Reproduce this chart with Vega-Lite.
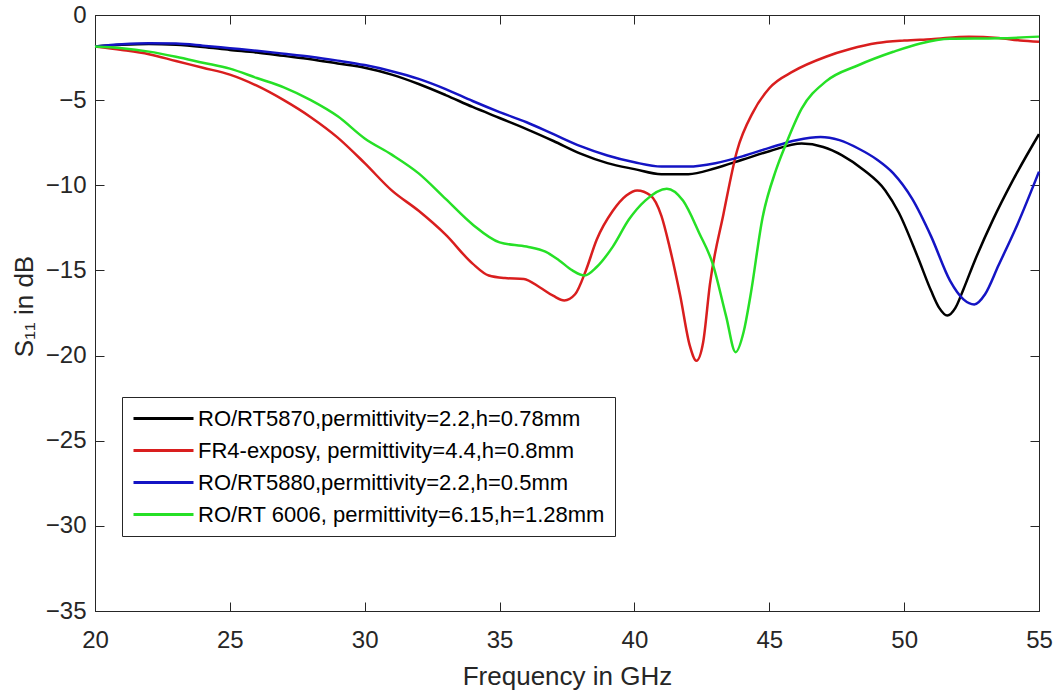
{
  "$schema": "https://vega.github.io/schema/vega-lite/v6.json",
  "autosize": {"type": "none"},
  "padding": {"left": 95, "top": 15, "right": 18, "bottom": 80},
  "width": 944,
  "height": 596,
  "background": "white",
  "config": {
    "view": {"stroke": "#262626", "strokeWidth": 1},
    "font": "Liberation Sans",
    "axis": {
      "grid": false,
      "domainColor": "#262626",
      "tickColor": "#262626",
      "labelColor": "#262626",
      "titleColor": "#262626",
      "labelFont": "Liberation Sans",
      "titleFont": "Liberation Sans",
      "labelFontSize": 24,
      "titleFontSize": 26,
      "titleFontWeight": "normal",
      "tickSize": -9,
      "labelFlush": false,
      "labelOverlap": false
    }
  },
  "data": {
    "values": [
      {"f":20,"s":-1.85,"m":"RO/RT5870,permittivity=2.2,h=0.78mm"},
      {"f":21,"s":-1.75,"m":"RO/RT5870,permittivity=2.2,h=0.78mm"},
      {"f":22,"s":-1.7,"m":"RO/RT5870,permittivity=2.2,h=0.78mm"},
      {"f":23,"s":-1.75,"m":"RO/RT5870,permittivity=2.2,h=0.78mm"},
      {"f":24,"s":-1.88,"m":"RO/RT5870,permittivity=2.2,h=0.78mm"},
      {"f":25,"s":-2.05,"m":"RO/RT5870,permittivity=2.2,h=0.78mm"},
      {"f":26,"s":-2.2,"m":"RO/RT5870,permittivity=2.2,h=0.78mm"},
      {"f":27,"s":-2.4,"m":"RO/RT5870,permittivity=2.2,h=0.78mm"},
      {"f":28,"s":-2.6,"m":"RO/RT5870,permittivity=2.2,h=0.78mm"},
      {"f":29,"s":-2.85,"m":"RO/RT5870,permittivity=2.2,h=0.78mm"},
      {"f":30,"s":-3.1,"m":"RO/RT5870,permittivity=2.2,h=0.78mm"},
      {"f":31,"s":-3.5,"m":"RO/RT5870,permittivity=2.2,h=0.78mm"},
      {"f":32,"s":-4.05,"m":"RO/RT5870,permittivity=2.2,h=0.78mm"},
      {"f":33,"s":-4.7,"m":"RO/RT5870,permittivity=2.2,h=0.78mm"},
      {"f":34,"s":-5.4,"m":"RO/RT5870,permittivity=2.2,h=0.78mm"},
      {"f":35,"s":-6.05,"m":"RO/RT5870,permittivity=2.2,h=0.78mm"},
      {"f":36,"s":-6.7,"m":"RO/RT5870,permittivity=2.2,h=0.78mm"},
      {"f":37,"s":-7.4,"m":"RO/RT5870,permittivity=2.2,h=0.78mm"},
      {"f":38,"s":-8.14,"m":"RO/RT5870,permittivity=2.2,h=0.78mm"},
      {"f":39,"s":-8.7,"m":"RO/RT5870,permittivity=2.2,h=0.78mm"},
      {"f":40,"s":-9.05,"m":"RO/RT5870,permittivity=2.2,h=0.78mm"},
      {"f":41,"s":-9.35,"m":"RO/RT5870,permittivity=2.2,h=0.78mm"},
      {"f":42,"s":-9.35,"m":"RO/RT5870,permittivity=2.2,h=0.78mm"},
      {"f":43,"s":-9.0,"m":"RO/RT5870,permittivity=2.2,h=0.78mm"},
      {"f":44,"s":-8.5,"m":"RO/RT5870,permittivity=2.2,h=0.78mm"},
      {"f":45,"s":-8.0,"m":"RO/RT5870,permittivity=2.2,h=0.78mm"},
      {"f":46.2,"s":-7.55,"m":"RO/RT5870,permittivity=2.2,h=0.78mm"},
      {"f":47,"s":-7.75,"m":"RO/RT5870,permittivity=2.2,h=0.78mm"},
      {"f":47.7,"s":-8.24,"m":"RO/RT5870,permittivity=2.2,h=0.78mm"},
      {"f":48.5,"s":-9.1,"m":"RO/RT5870,permittivity=2.2,h=0.78mm"},
      {"f":49.3,"s":-10.3,"m":"RO/RT5870,permittivity=2.2,h=0.78mm"},
      {"f":49.8,"s":-11.6,"m":"RO/RT5870,permittivity=2.2,h=0.78mm"},
      {"f":50.5,"s":-14.2,"m":"RO/RT5870,permittivity=2.2,h=0.78mm"},
      {"f":51,"s":-16.2,"m":"RO/RT5870,permittivity=2.2,h=0.78mm"},
      {"f":51.3,"s":-17.2,"m":"RO/RT5870,permittivity=2.2,h=0.78mm"},
      {"f":51.6,"s":-17.65,"m":"RO/RT5870,permittivity=2.2,h=0.78mm"},
      {"f":51.9,"s":-17.2,"m":"RO/RT5870,permittivity=2.2,h=0.78mm"},
      {"f":52.2,"s":-16.1,"m":"RO/RT5870,permittivity=2.2,h=0.78mm"},
      {"f":52.6,"s":-14.5,"m":"RO/RT5870,permittivity=2.2,h=0.78mm"},
      {"f":53.3,"s":-12.0,"m":"RO/RT5870,permittivity=2.2,h=0.78mm"},
      {"f":54,"s":-9.8,"m":"RO/RT5870,permittivity=2.2,h=0.78mm"},
      {"f":55,"s":-7.0,"m":"RO/RT5870,permittivity=2.2,h=0.78mm"},

      {"f":20,"s":-1.85,"m":"FR4-exposy, permittivity=4.4,h=0.8mm"},
      {"f":21,"s":-2.05,"m":"FR4-exposy, permittivity=4.4,h=0.8mm"},
      {"f":22,"s":-2.3,"m":"FR4-exposy, permittivity=4.4,h=0.8mm"},
      {"f":23,"s":-2.7,"m":"FR4-exposy, permittivity=4.4,h=0.8mm"},
      {"f":24,"s":-3.1,"m":"FR4-exposy, permittivity=4.4,h=0.8mm"},
      {"f":25,"s":-3.5,"m":"FR4-exposy, permittivity=4.4,h=0.8mm"},
      {"f":26,"s":-4.15,"m":"FR4-exposy, permittivity=4.4,h=0.8mm"},
      {"f":27,"s":-5.0,"m":"FR4-exposy, permittivity=4.4,h=0.8mm"},
      {"f":28,"s":-6.0,"m":"FR4-exposy, permittivity=4.4,h=0.8mm"},
      {"f":29,"s":-7.2,"m":"FR4-exposy, permittivity=4.4,h=0.8mm"},
      {"f":30,"s":-8.7,"m":"FR4-exposy, permittivity=4.4,h=0.8mm"},
      {"f":31,"s":-10.3,"m":"FR4-exposy, permittivity=4.4,h=0.8mm"},
      {"f":32,"s":-11.5,"m":"FR4-exposy, permittivity=4.4,h=0.8mm"},
      {"f":33,"s":-12.9,"m":"FR4-exposy, permittivity=4.4,h=0.8mm"},
      {"f":34,"s":-14.6,"m":"FR4-exposy, permittivity=4.4,h=0.8mm"},
      {"f":34.6,"s":-15.3,"m":"FR4-exposy, permittivity=4.4,h=0.8mm"},
      {"f":35.2,"s":-15.45,"m":"FR4-exposy, permittivity=4.4,h=0.8mm"},
      {"f":35.9,"s":-15.5,"m":"FR4-exposy, permittivity=4.4,h=0.8mm"},
      {"f":36.5,"s":-16.0,"m":"FR4-exposy, permittivity=4.4,h=0.8mm"},
      {"f":37,"s":-16.5,"m":"FR4-exposy, permittivity=4.4,h=0.8mm"},
      {"f":37.4,"s":-16.76,"m":"FR4-exposy, permittivity=4.4,h=0.8mm"},
      {"f":37.8,"s":-16.4,"m":"FR4-exposy, permittivity=4.4,h=0.8mm"},
      {"f":38.2,"s":-15.0,"m":"FR4-exposy, permittivity=4.4,h=0.8mm"},
      {"f":38.6,"s":-13.2,"m":"FR4-exposy, permittivity=4.4,h=0.8mm"},
      {"f":39.2,"s":-11.5,"m":"FR4-exposy, permittivity=4.4,h=0.8mm"},
      {"f":39.7,"s":-10.6,"m":"FR4-exposy, permittivity=4.4,h=0.8mm"},
      {"f":40.1,"s":-10.3,"m":"FR4-exposy, permittivity=4.4,h=0.8mm"},
      {"f":40.6,"s":-10.6,"m":"FR4-exposy, permittivity=4.4,h=0.8mm"},
      {"f":41,"s":-11.8,"m":"FR4-exposy, permittivity=4.4,h=0.8mm"},
      {"f":41.3,"s":-13.6,"m":"FR4-exposy, permittivity=4.4,h=0.8mm"},
      {"f":41.7,"s":-16.5,"m":"FR4-exposy, permittivity=4.4,h=0.8mm"},
      {"f":42.05,"s":-19.4,"m":"FR4-exposy, permittivity=4.4,h=0.8mm"},
      {"f":42.3,"s":-20.3,"m":"FR4-exposy, permittivity=4.4,h=0.8mm"},
      {"f":42.55,"s":-19.2,"m":"FR4-exposy, permittivity=4.4,h=0.8mm"},
      {"f":42.8,"s":-15.8,"m":"FR4-exposy, permittivity=4.4,h=0.8mm"},
      {"f":43.3,"s":-11.7,"m":"FR4-exposy, permittivity=4.4,h=0.8mm"},
      {"f":43.8,"s":-8.0,"m":"FR4-exposy, permittivity=4.4,h=0.8mm"},
      {"f":44.4,"s":-5.7,"m":"FR4-exposy, permittivity=4.4,h=0.8mm"},
      {"f":45,"s":-4.3,"m":"FR4-exposy, permittivity=4.4,h=0.8mm"},
      {"f":45.9,"s":-3.3,"m":"FR4-exposy, permittivity=4.4,h=0.8mm"},
      {"f":47.1,"s":-2.45,"m":"FR4-exposy, permittivity=4.4,h=0.8mm"},
      {"f":48,"s":-2.0,"m":"FR4-exposy, permittivity=4.4,h=0.8mm"},
      {"f":49,"s":-1.65,"m":"FR4-exposy, permittivity=4.4,h=0.8mm"},
      {"f":50,"s":-1.5,"m":"FR4-exposy, permittivity=4.4,h=0.8mm"},
      {"f":51,"s":-1.42,"m":"FR4-exposy, permittivity=4.4,h=0.8mm"},
      {"f":52.4,"s":-1.27,"m":"FR4-exposy, permittivity=4.4,h=0.8mm"},
      {"f":53.5,"s":-1.35,"m":"FR4-exposy, permittivity=4.4,h=0.8mm"},
      {"f":54.3,"s":-1.5,"m":"FR4-exposy, permittivity=4.4,h=0.8mm"},
      {"f":55,"s":-1.57,"m":"FR4-exposy, permittivity=4.4,h=0.8mm"},

      {"f":20,"s":-1.85,"m":"RO/RT5880,permittivity=2.2,h=0.5mm"},
      {"f":21,"s":-1.72,"m":"RO/RT5880,permittivity=2.2,h=0.5mm"},
      {"f":22,"s":-1.66,"m":"RO/RT5880,permittivity=2.2,h=0.5mm"},
      {"f":23,"s":-1.68,"m":"RO/RT5880,permittivity=2.2,h=0.5mm"},
      {"f":24,"s":-1.8,"m":"RO/RT5880,permittivity=2.2,h=0.5mm"},
      {"f":25,"s":-1.95,"m":"RO/RT5880,permittivity=2.2,h=0.5mm"},
      {"f":26,"s":-2.1,"m":"RO/RT5880,permittivity=2.2,h=0.5mm"},
      {"f":27,"s":-2.27,"m":"RO/RT5880,permittivity=2.2,h=0.5mm"},
      {"f":28,"s":-2.45,"m":"RO/RT5880,permittivity=2.2,h=0.5mm"},
      {"f":29,"s":-2.68,"m":"RO/RT5880,permittivity=2.2,h=0.5mm"},
      {"f":30,"s":-2.94,"m":"RO/RT5880,permittivity=2.2,h=0.5mm"},
      {"f":31,"s":-3.3,"m":"RO/RT5880,permittivity=2.2,h=0.5mm"},
      {"f":32,"s":-3.75,"m":"RO/RT5880,permittivity=2.2,h=0.5mm"},
      {"f":33,"s":-4.35,"m":"RO/RT5880,permittivity=2.2,h=0.5mm"},
      {"f":34,"s":-5.05,"m":"RO/RT5880,permittivity=2.2,h=0.5mm"},
      {"f":35,"s":-5.7,"m":"RO/RT5880,permittivity=2.2,h=0.5mm"},
      {"f":36,"s":-6.3,"m":"RO/RT5880,permittivity=2.2,h=0.5mm"},
      {"f":37,"s":-7.0,"m":"RO/RT5880,permittivity=2.2,h=0.5mm"},
      {"f":38,"s":-7.7,"m":"RO/RT5880,permittivity=2.2,h=0.5mm"},
      {"f":39,"s":-8.25,"m":"RO/RT5880,permittivity=2.2,h=0.5mm"},
      {"f":40,"s":-8.65,"m":"RO/RT5880,permittivity=2.2,h=0.5mm"},
      {"f":41,"s":-8.9,"m":"RO/RT5880,permittivity=2.2,h=0.5mm"},
      {"f":42,"s":-8.9,"m":"RO/RT5880,permittivity=2.2,h=0.5mm"},
      {"f":43,"s":-8.7,"m":"RO/RT5880,permittivity=2.2,h=0.5mm"},
      {"f":44,"s":-8.3,"m":"RO/RT5880,permittivity=2.2,h=0.5mm"},
      {"f":45,"s":-7.8,"m":"RO/RT5880,permittivity=2.2,h=0.5mm"},
      {"f":46,"s":-7.35,"m":"RO/RT5880,permittivity=2.2,h=0.5mm"},
      {"f":46.9,"s":-7.16,"m":"RO/RT5880,permittivity=2.2,h=0.5mm"},
      {"f":47.6,"s":-7.35,"m":"RO/RT5880,permittivity=2.2,h=0.5mm"},
      {"f":48.3,"s":-7.84,"m":"RO/RT5880,permittivity=2.2,h=0.5mm"},
      {"f":49,"s":-8.5,"m":"RO/RT5880,permittivity=2.2,h=0.5mm"},
      {"f":49.6,"s":-9.3,"m":"RO/RT5880,permittivity=2.2,h=0.5mm"},
      {"f":50.3,"s":-10.8,"m":"RO/RT5880,permittivity=2.2,h=0.5mm"},
      {"f":51,"s":-13.0,"m":"RO/RT5880,permittivity=2.2,h=0.5mm"},
      {"f":51.7,"s":-15.6,"m":"RO/RT5880,permittivity=2.2,h=0.5mm"},
      {"f":52.2,"s":-16.7,"m":"RO/RT5880,permittivity=2.2,h=0.5mm"},
      {"f":52.6,"s":-17.0,"m":"RO/RT5880,permittivity=2.2,h=0.5mm"},
      {"f":53,"s":-16.4,"m":"RO/RT5880,permittivity=2.2,h=0.5mm"},
      {"f":53.5,"s":-14.7,"m":"RO/RT5880,permittivity=2.2,h=0.5mm"},
      {"f":54.2,"s":-12.3,"m":"RO/RT5880,permittivity=2.2,h=0.5mm"},
      {"f":55,"s":-9.2,"m":"RO/RT5880,permittivity=2.2,h=0.5mm"},

      {"f":20,"s":-1.85,"m":"RO/RT 6006, permittivity=6.15,h=1.28mm"},
      {"f":21,"s":-1.95,"m":"RO/RT 6006, permittivity=6.15,h=1.28mm"},
      {"f":22,"s":-2.15,"m":"RO/RT 6006, permittivity=6.15,h=1.28mm"},
      {"f":23,"s":-2.45,"m":"RO/RT 6006, permittivity=6.15,h=1.28mm"},
      {"f":24,"s":-2.8,"m":"RO/RT 6006, permittivity=6.15,h=1.28mm"},
      {"f":25,"s":-3.15,"m":"RO/RT 6006, permittivity=6.15,h=1.28mm"},
      {"f":26,"s":-3.7,"m":"RO/RT 6006, permittivity=6.15,h=1.28mm"},
      {"f":27,"s":-4.25,"m":"RO/RT 6006, permittivity=6.15,h=1.28mm"},
      {"f":28,"s":-5.0,"m":"RO/RT 6006, permittivity=6.15,h=1.28mm"},
      {"f":29,"s":-5.95,"m":"RO/RT 6006, permittivity=6.15,h=1.28mm"},
      {"f":30,"s":-7.25,"m":"RO/RT 6006, permittivity=6.15,h=1.28mm"},
      {"f":31,"s":-8.2,"m":"RO/RT 6006, permittivity=6.15,h=1.28mm"},
      {"f":32,"s":-9.3,"m":"RO/RT 6006, permittivity=6.15,h=1.28mm"},
      {"f":33,"s":-10.8,"m":"RO/RT 6006, permittivity=6.15,h=1.28mm"},
      {"f":34,"s":-12.3,"m":"RO/RT 6006, permittivity=6.15,h=1.28mm"},
      {"f":35,"s":-13.35,"m":"RO/RT 6006, permittivity=6.15,h=1.28mm"},
      {"f":36,"s":-13.6,"m":"RO/RT 6006, permittivity=6.15,h=1.28mm"},
      {"f":36.7,"s":-13.9,"m":"RO/RT 6006, permittivity=6.15,h=1.28mm"},
      {"f":37.2,"s":-14.4,"m":"RO/RT 6006, permittivity=6.15,h=1.28mm"},
      {"f":37.7,"s":-15.0,"m":"RO/RT 6006, permittivity=6.15,h=1.28mm"},
      {"f":38.15,"s":-15.3,"m":"RO/RT 6006, permittivity=6.15,h=1.28mm"},
      {"f":38.6,"s":-14.8,"m":"RO/RT 6006, permittivity=6.15,h=1.28mm"},
      {"f":39.2,"s":-13.6,"m":"RO/RT 6006, permittivity=6.15,h=1.28mm"},
      {"f":39.8,"s":-12.0,"m":"RO/RT 6006, permittivity=6.15,h=1.28mm"},
      {"f":40.4,"s":-10.9,"m":"RO/RT 6006, permittivity=6.15,h=1.28mm"},
      {"f":41.2,"s":-10.2,"m":"RO/RT 6006, permittivity=6.15,h=1.28mm"},
      {"f":41.8,"s":-10.9,"m":"RO/RT 6006, permittivity=6.15,h=1.28mm"},
      {"f":42.4,"s":-12.8,"m":"RO/RT 6006, permittivity=6.15,h=1.28mm"},
      {"f":42.9,"s":-14.6,"m":"RO/RT 6006, permittivity=6.15,h=1.28mm"},
      {"f":43.4,"s":-17.7,"m":"RO/RT 6006, permittivity=6.15,h=1.28mm"},
      {"f":43.75,"s":-19.8,"m":"RO/RT 6006, permittivity=6.15,h=1.28mm"},
      {"f":44.05,"s":-18.6,"m":"RO/RT 6006, permittivity=6.15,h=1.28mm"},
      {"f":44.3,"s":-16.5,"m":"RO/RT 6006, permittivity=6.15,h=1.28mm"},
      {"f":44.75,"s":-11.9,"m":"RO/RT 6006, permittivity=6.15,h=1.28mm"},
      {"f":45.25,"s":-9.1,"m":"RO/RT 6006, permittivity=6.15,h=1.28mm"},
      {"f":45.6,"s":-7.65,"m":"RO/RT 6006, permittivity=6.15,h=1.28mm"},
      {"f":46.2,"s":-5.5,"m":"RO/RT 6006, permittivity=6.15,h=1.28mm"},
      {"f":47.1,"s":-3.9,"m":"RO/RT 6006, permittivity=6.15,h=1.28mm"},
      {"f":48.3,"s":-2.95,"m":"RO/RT 6006, permittivity=6.15,h=1.28mm"},
      {"f":49.6,"s":-2.16,"m":"RO/RT 6006, permittivity=6.15,h=1.28mm"},
      {"f":50.6,"s":-1.67,"m":"RO/RT 6006, permittivity=6.15,h=1.28mm"},
      {"f":51.7,"s":-1.4,"m":"RO/RT 6006, permittivity=6.15,h=1.28mm"},
      {"f":53.5,"s":-1.37,"m":"RO/RT 6006, permittivity=6.15,h=1.28mm"},
      {"f":55,"s":-1.27,"m":"RO/RT 6006, permittivity=6.15,h=1.28mm"}
    ]
  },
  "layer": [
    {
      "mark": {"type": "line", "strokeWidth": 2.5, "interpolate": "monotone"},
      "encoding": {
        "x": {
          "field": "f", "type": "quantitative",
          "scale": {"domain": [20, 55], "nice": false, "zero": false},
          "axis": {
            "orient": "bottom", "values": [20, 25, 30, 35, 40, 45, 50, 55],
            "title": "Frequency in GHz", "labelPadding": 26,
            "titleX": 472, "titleY": 73, "titleBaseline": "alphabetic", "titleAlign": "center"
          }
        },
        "y": {
          "field": "s", "type": "quantitative",
          "scale": {"domain": [-35, 0], "nice": false, "zero": false},
          "axis": {
            "orient": "left", "values": [-35, -30, -25, -20, -15, -10, -5, 0],
            "title": "S₁₁ in dB", "labelPadding": 18,
            "titleX": -71, "titleY": 291, "titleAngle": -90, "titleBaseline": "middle", "titleAlign": "center"
          }
        },
        "color": {
          "field": "m", "type": "nominal",
          "scale": {
            "domain": ["RO/RT5870,permittivity=2.2,h=0.78mm", "FR4-exposy, permittivity=4.4,h=0.8mm", "RO/RT5880,permittivity=2.2,h=0.5mm", "RO/RT 6006, permittivity=6.15,h=1.28mm"],
            "range": ["#000000", "#d91e1e", "#1414c4", "#26e026"]
          },
          "legend": {
            "orient": "none", "legendX": 27, "legendY": 382, "title": null,
            "symbolType": "M-1,0H5", "symbolSize": 400, "symbolStrokeWidth": 3,
            "labelFontSize": 22, "labelFont": "Liberation Sans", "labelColor": "#000000", "labelLimit": 700,
            "labelOffset": 43, "padding": 10, "rowPadding": 9,
            "strokeColor": "#262626", "fillColor": "white", "cornerRadius": 0
          }
        }
      }
    },
    {
      "mark": {"type": "line", "opacity": 0},
      "encoding": {
        "x": {
          "field": "f", "type": "quantitative",
          "scale": {"domain": [20, 55], "nice": false, "zero": false},
          "axis": {"orient": "top", "values": [20, 25, 30, 35, 40, 45, 50, 55], "labels": false, "title": null, "domain": false}
        },
        "y": {
          "field": "s", "type": "quantitative",
          "scale": {"domain": [-35, 0], "nice": false, "zero": false},
          "axis": {"orient": "right", "values": [-35, -30, -25, -20, -15, -10, -5, 0], "labels": false, "title": null, "domain": false}
        },
        "detail": {"field": "m", "type": "nominal"}
      }
    }
  ],
  "resolve": {"axis": {"x": "independent", "y": "independent"}}
}
